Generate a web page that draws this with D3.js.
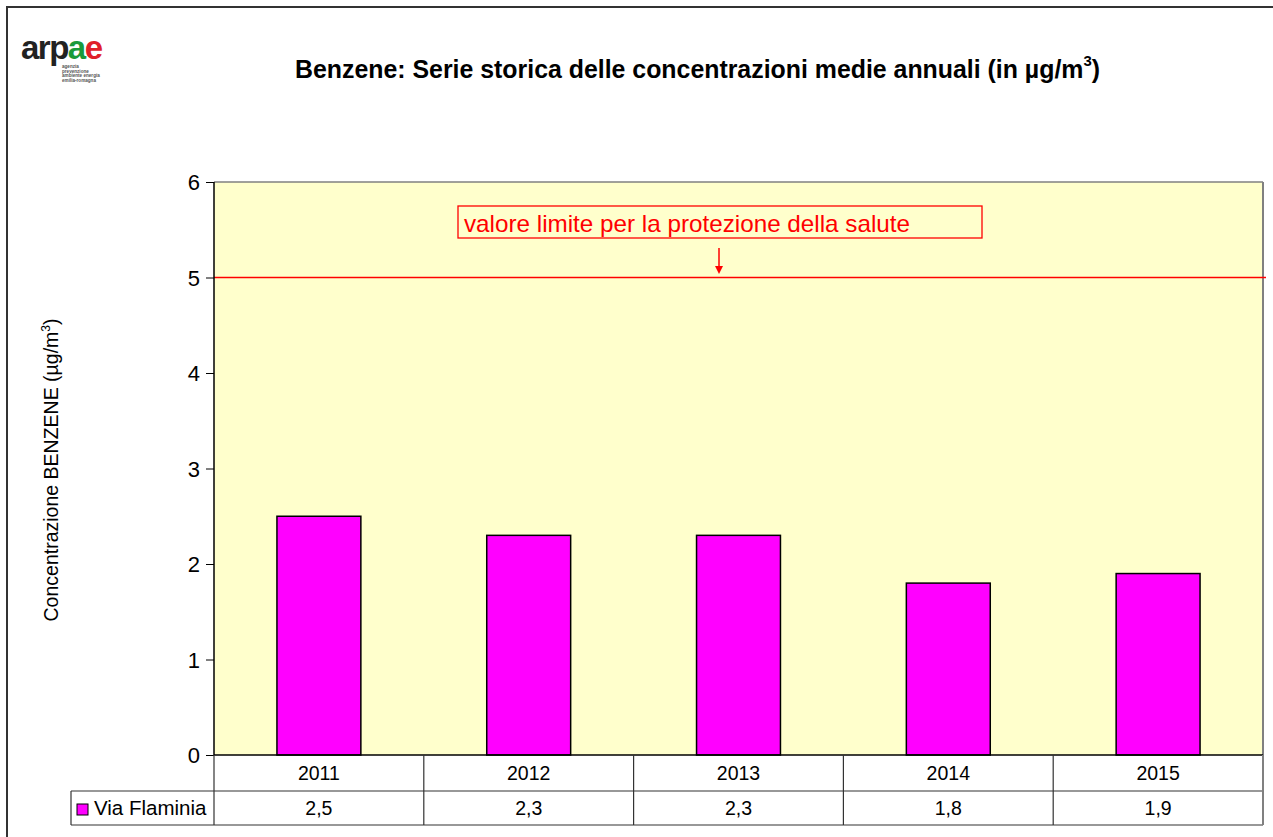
<!DOCTYPE html>
<html><head><meta charset="utf-8">
<script src="https://cdn.jsdelivr.net/npm/d3@7"></script>
<style>body{margin:0;background:#fff}svg{display:block}</style>
</head><body>
<svg id="c" width="1273" height="837"></svg>
<script>
const categories = ["2011","2012","2013","2014","2015"];
const seriesName = "Via Flaminia";
const values = [2.5, 2.3, 2.3, 1.8, 1.9];
const valueLabels = ["2,5","2,3","2,3","1,8","1,9"];
const yTicks = [0,1,2,3,4,5,6];
const limitValue = 5;
const limitLabel = "valore limite per la protezione della salute";

const svg = d3.select("#c");
const F = "Liberation Sans, Arial, sans-serif";
const L = 214, R = 1263, T = 182, B = 755;

// outer border
svg.append("path").attr("d","M7,840 L7,7 L1280,7").attr("fill","none").attr("stroke","#333").attr("stroke-width",2);

// logo
const logo = svg.append("text").attr("x",21).attr("y",59).attr("font-family",F).attr("font-weight","bold").attr("font-size",33).attr("letter-spacing",-1.5);
logo.append("tspan").attr("fill","#222").text("arp");
logo.append("tspan").attr("fill","#1a9a3a").text("a");
logo.append("tspan").attr("fill","#e0202a").text("e");
["agenzia","prevenzione","ambiente energia","emilia-romagna"].forEach((t,i)=>{
  svg.append("text").attr("x",62).attr("y",68+i*4.6).attr("font-family",F).attr("font-weight","bold").attr("font-size",4.6).attr("fill","#555").text(t);
});

// title
const title = svg.append("text").attr("x",295).attr("y",78)
  .attr("font-family",F).attr("font-weight","bold").attr("font-size",25).attr("fill","#000")
  .attr("textLength",805).attr("lengthAdjust","spacingAndGlyphs");
title.append("tspan").text("Benzene: Serie storica delle concentrazioni medie annuali (in µg/m");
title.append("tspan").attr("font-size",15).attr("dy",-12).text("3");
title.append("tspan").attr("dy",12).text(")");

const x = d3.scaleBand().domain(categories).range([L,R]).paddingInner(0.6).paddingOuter(0.3);
const xb = d3.scaleBand().domain(categories).range([L,R]);
const y = d3.scaleLinear().domain([0,6]).range([B,T]);

// plot area
svg.append("rect").attr("x",L).attr("y",T).attr("width",R-L).attr("height",B-T).attr("fill","#ffffcc");
svg.append("line").attr("x1",L).attr("x2",R).attr("y1",T).attr("y2",T).attr("stroke","#808080").attr("stroke-width",1.5);
svg.append("line").attr("x1",R).attr("x2",R).attr("y1",T).attr("y2",B).attr("stroke","#808080").attr("stroke-width",2);

// bars
svg.selectAll("rect.bar").data(values).join("rect").attr("class","bar")
  .attr("x",(d,i)=>x(categories[i])).attr("width",x.bandwidth())
  .attr("y",d=>y(d)).attr("height",d=>B-y(d))
  .attr("fill","#ff00ff").attr("stroke","#000").attr("stroke-width",1.5);

// limit line
svg.append("line").attr("x1",L).attr("x2",R+3).attr("y1",y(limitValue)).attr("y2",y(limitValue)).attr("stroke","#ff0000").attr("stroke-width",1.5);

// annotation
svg.append("rect").attr("x",458).attr("y",206).attr("width",524).attr("height",32).attr("fill","none").attr("stroke","#ff0000").attr("stroke-width",1.3);
svg.append("text").attr("x",464).attr("y",232).attr("font-family",F).attr("font-size",24).attr("fill","#ff0000")
  .attr("textLength",446).attr("lengthAdjust","spacingAndGlyphs").text(limitLabel);
svg.append("line").attr("x1",719).attr("x2",719).attr("y1",248).attr("y2",268).attr("stroke","#ff0000").attr("stroke-width",1.5);
svg.append("path").attr("d","M715,266 L723,266 L719,274 Z").attr("fill","#ff0000");

// y axis
const ya = svg.append("g").attr("transform",`translate(${L},0)`)
  .call(d3.axisLeft(y).tickValues(yTicks).tickSize(8).tickPadding(6).tickFormat(d3.format("d")));
ya.select(".domain").attr("stroke","#000").attr("stroke-width",1.5).attr("d",`M0,${T}V${B}`);
ya.selectAll(".tick line").attr("stroke","#000");
ya.selectAll("text").attr("font-family",F).attr("font-size",22).attr("fill","#000").attr("dy","0.35em");

// y label
const yl = svg.append("text").attr("transform","translate(58,470) rotate(-90)").attr("text-anchor","middle")
  .attr("font-family",F).attr("font-size",19.5).attr("fill","#000");
yl.append("tspan").text("Concentrazione BENZENE  (µg/m");
yl.append("tspan").attr("font-size",12).attr("dy",-8).text("3");
yl.append("tspan").attr("dy",8).text(")");

// data table
const r1 = 755, r2 = 791, r3 = 825, legL = 71;
const g = svg.append("g").attr("stroke","#333").attr("stroke-width",1.2);
g.append("line").attr("x1",L).attr("x2",R).attr("y1",r1).attr("y2",r1).attr("stroke","#000").attr("stroke-width",1.5);
g.append("line").attr("x1",legL).attr("x2",R).attr("y1",r2).attr("y2",r2);
g.append("line").attr("x1",legL).attr("x2",R).attr("y1",r3).attr("y2",r3);
g.append("line").attr("x1",legL).attr("x2",legL).attr("y1",r2).attr("y2",r3);
g.append("line").attr("x1",L).attr("x2",L).attr("y1",r1).attr("y2",r3);
categories.forEach(c=>{
  const last = c===categories[categories.length-1];
  g.append("line").attr("x1",xb(c)+xb.bandwidth()).attr("x2",xb(c)+xb.bandwidth()).attr("y1",r1).attr("y2",r3)
   .attr("stroke",last?"#808080":"#333").attr("stroke-width",last?2:1.2);
});
svg.selectAll("text.cat").data(categories).join("text").attr("class","cat")
  .attr("x",d=>xb(d)+xb.bandwidth()/2).attr("y",(r1+r2)/2+7).attr("text-anchor","middle")
  .attr("font-family",F).attr("font-size",19.5).text(d=>d);
svg.selectAll("text.val").data(valueLabels).join("text").attr("class","val")
  .attr("x",(d,i)=>xb(categories[i])+xb.bandwidth()/2).attr("y",(r2+r3)/2+7).attr("text-anchor","middle")
  .attr("font-family",F).attr("font-size",19.5).text(d=>d);
svg.append("rect").attr("x",77).attr("y",804).attr("width",11).attr("height",11).attr("fill","#ff00ff").attr("stroke","#000").attr("stroke-width",1);
svg.append("text").attr("x",94).attr("y",815).attr("font-family",F).attr("font-size",20.5).text(seriesName);
</script>
</body></html>
